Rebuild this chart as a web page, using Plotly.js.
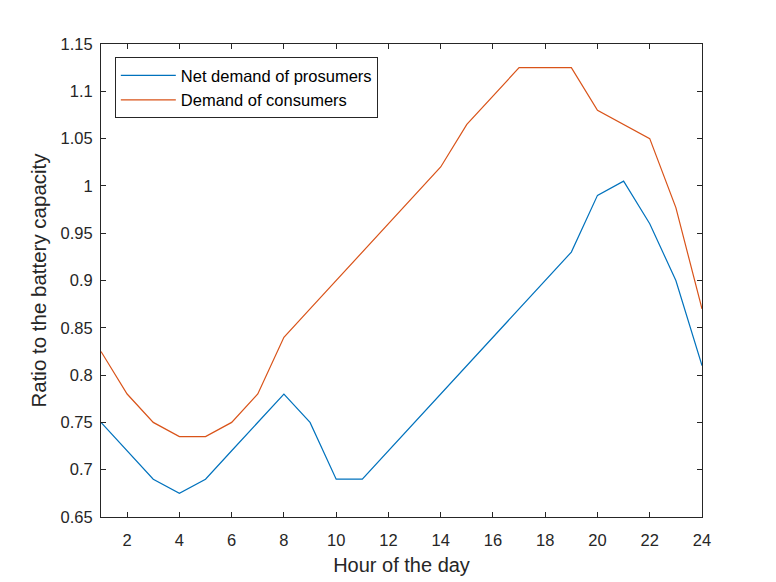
<!DOCTYPE html>
<html>
<head>
<meta charset="utf-8">
<script src="https://cdn.plot.ly/plotly-3.0.1.min.js"></script>
<style>
  body { margin: 0; background: #fff; }
  #chart { width: 776px; height: 582px; }
</style>
</head>
<body>
<div id="chart"></div>
<script>
// hours 1..24
var hours = [1, 2, 3, 4, 5, 6, 7, 8, 9, 10, 11, 12, 13, 14, 15, 16, 17, 18, 19, 20, 21, 22, 23, 24];

// values
var prosumers = [0.75, 0.72, 0.69, 0.675, 0.69, 0.72, 0.75, 0.78, 0.75, 0.69, 0.69, 0.72,
                 0.75, 0.78, 0.81, 0.84, 0.87, 0.90, 0.93, 0.99, 1.005, 0.96, 0.90, 0.81];
var consumers = [0.825, 0.78, 0.75, 0.735, 0.735, 0.75, 0.78, 0.84, 0.87, 0.90, 0.93, 0.96,
                 0.99, 1.02, 1.065, 1.095, 1.125, 1.125, 1.125, 1.08, 1.065, 1.05, 0.977, 0.87];

var seriesNames = ["Net demand of prosumers", "Demand of consumers"];

var axisColor = "#262626";
var fam = "Liberation Sans, Arial, sans-serif";

var axisBase = {
    showline: true,
    linecolor: axisColor,
    linewidth: 1,
    mirror: "ticks",
    ticks: "inside",
    ticklen: 5,
    tickcolor: axisColor,
    showgrid: false,
    zeroline: false,
    tickfont: { family: fam, size: 16.5, color: axisColor }
};

var trace1 = {
    x: hours,
    y: prosumers,
    type: "scatter",
    mode: "lines",
    name: seriesNames[0],
    line: { color: "#0072BD", width: 1.2 }
};
var trace2 = {
    x: hours,
    y: consumers,
    type: "scatter",
    mode: "lines",
    name: seriesNames[1],
    line: { color: "#D95319", width: 1.2 }
};

var layout = {
    width: 776,
    height: 582,
    margin: { l: 101, r: 74, t: 44, b: 65 },
    paper_bgcolor: "#fff",
    plot_bgcolor: "#fff",
    font: { family: fam, color: axisColor },
    showlegend: true,
    legend: {
        x: 0.023,
        y: 0.972,
        xanchor: "left",
        yanchor: "top",
        bgcolor: "#fff",
        bordercolor: axisColor,
        borderwidth: 1,
        font: { family: fam, size: 16.5, color: "#000" },
        tracegroupgap: 0,
        itemwidth: 55
    },
    xaxis: Object.assign({}, axisBase, {
        range: [1, 24],
        tick0: 0,
        dtick: 2,
        ticklabelstandoff: 8,
        title: { text: "Hour of the day", standoff: 10,
                 font: { family: fam, size: 20, color: axisColor } }
    }),
    yaxis: Object.assign({}, axisBase, {
        range: [0.65, 1.15],
        tick0: 0.65,
        dtick: 0.05,
        ticklabelstandoff: 4,
        title: { text: "Ratio to the battery capacity", standoff: 8,
                 font: { family: fam, size: 20.5, color: axisColor } }
    })
};

Plotly.newPlot("chart", [trace1, trace2], layout, { displayModeBar: false, staticPlot: true });
</script>
</body>
</html>
